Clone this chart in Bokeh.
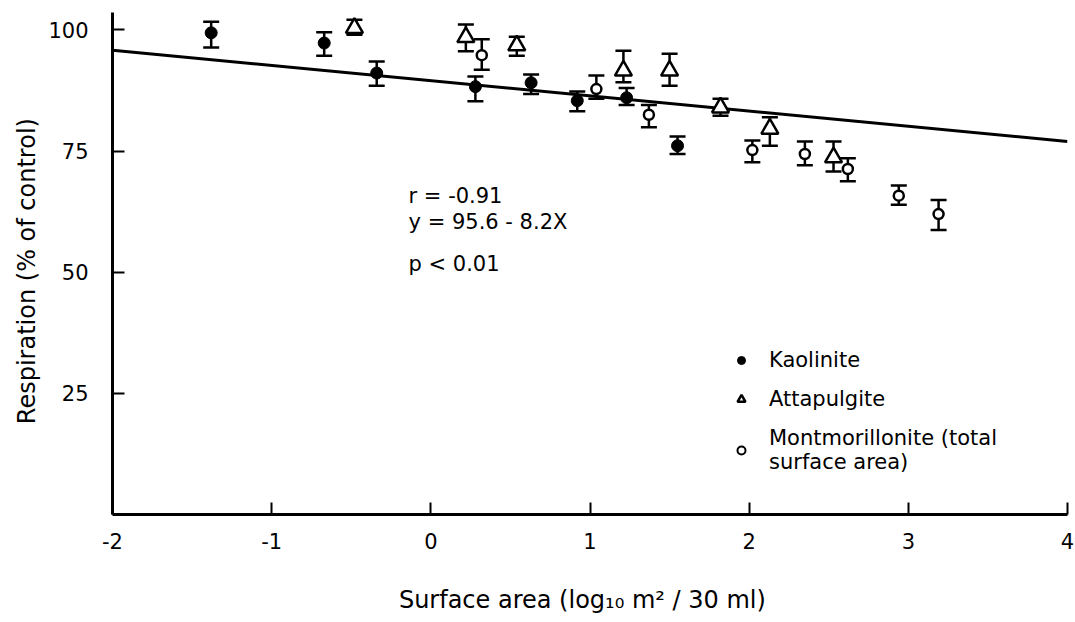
from bokeh.plotting import figure
from bokeh.models import (ColumnDataSource, Whisker, TeeHead, FixedTicker, Label,
                          Legend, LegendItem, Range1d)
from bokeh.embed import file_html
from bokeh.resources import INLINE

# ---- data ----
kao_x = [-1.38, -0.67, -0.34, 0.28, 0.63, 0.92, 1.23, 1.55]
kao_y = [99.4, 97.3, 91.1, 88.3, 89.1, 85.4, 86.0, 76.1]
kao_lo = [96.4, 94.7, 88.5, 85.3, 86.8, 83.2, 84.5, 74.4]
kao_hi = [101.7, 99.5, 93.5, 90.4, 90.8, 87.3, 88.0, 78.0]

att_x = [-0.48, 0.22, 0.54, 1.21, 1.50, 1.82, 2.13, 2.53]
att_y = [100.4, 98.5, 96.8, 91.6, 91.6, 84.0, 79.6, 73.7]
att_lo = [99.0, 95.6, 94.7, 89.2, 88.5, 82.3, 76.1, 70.8]
att_hi = [102.1, 101.1, 98.6, 95.7, 95.1, 85.8, 82.0, 77.0]

mont_x = [0.32, 1.04, 1.37, 2.02, 2.35, 2.62, 2.94, 3.19]
mont_y = [94.8, 87.8, 82.5, 75.2, 74.4, 71.3, 65.8, 62.0]
mont_lo = [91.8, 85.8, 79.9, 72.7, 72.1, 68.8, 63.9, 58.7]
mont_hi = [98.1, 90.6, 84.5, 77.2, 77.0, 73.5, 67.9, 64.9]

fit_x = [-2.0, 4.0]
fit_y = [95.8, 77.0]

x_ticks = [-2, -1, 0, 1, 2, 3, 4]
x_tick_labels = ["-2", "-1", "0", "1", "2", "3", "4"]
y_ticks = [25, 50, 75, 100]

stats_lines = ["r = -0.91", "y =  95.6 - 8.2X", "p < 0.01"]

FONT = "DejaVu Sans"
NAN = float("nan")

p = figure(width=1075, height=622, output_backend="svg", toolbar_location=None,
           x_range=Range1d(-2, 4), y_range=Range1d(0, 103.6),
           min_border_left=112, min_border_right=8, min_border_top=12,
           min_border_bottom=108)
p.outline_line_color = None
p.xgrid.visible = False
p.ygrid.visible = False

# axes styling
for ax in (p.xaxis[0], p.yaxis[0]):
    ax.axis_line_width = 3
    ax.axis_line_color = "black"
    ax.major_tick_line_width = 2
    ax.major_tick_line_color = "black"
    ax.major_tick_in = 12
    ax.major_tick_out = 0
    ax.minor_tick_line_color = None
    ax.major_label_text_font = FONT
    ax.major_label_text_font_size = "21px"
    ax.major_label_text_color = "black"
    ax.axis_label_text_font = FONT
    ax.axis_label_text_font_size = "24px"
    ax.axis_label_text_font_style = "normal"
    ax.axis_label_text_color = "black"

p.xaxis.ticker = FixedTicker(ticks=x_ticks)
p.xaxis.major_label_overrides = {t: s for t, s in zip(x_ticks, x_tick_labels)}
p.yaxis.ticker = FixedTicker(ticks=y_ticks)
p.xaxis.major_label_standoff = 18
p.yaxis.major_label_standoff = 24
p.xaxis.axis_label = "Surface  area  (log\u2081\u2080 m\u00b2 / 30 ml)"
p.yaxis.axis_label = "Respiration  (% of  control)"
p.xaxis.axis_label_standoff = 34
p.yaxis.axis_label_standoff = 4

# regression line
p.line(fit_x, fit_y, line_color="black", line_width=3)

def add_errors(xs, lo, hi):
    src = ColumnDataSource(dict(x=xs, lo=lo, hi=hi))
    w = Whisker(source=src, base="x", lower="lo", upper="hi", dimension="height",
                line_color="black", line_width=2.5,
                upper_head=TeeHead(size=16, line_width=2.5, line_color="black"),
                lower_head=TeeHead(size=16, line_width=2.5, line_color="black"))
    p.add_layout(w)

add_errors(kao_x, kao_lo, kao_hi)
add_errors(att_x, att_lo, att_hi)
add_errors(mont_x, mont_lo, mont_hi)

p.scatter(kao_x, kao_y, marker="circle", size=12, fill_color="black",
          line_color="black")
p.scatter(att_x, att_y, marker="triangle", size=17, fill_color="white",
          line_color="black", line_width=2.5)
p.scatter(mont_x, mont_y, marker="circle", size=10, fill_color="white",
          line_color="black", line_width=2.5)

# legend-only glyphs (smaller symbols, as in the key); NaN points are not drawn
lg_kao = p.scatter([NAN], [NAN], marker="circle", size=9, fill_color="black",
                   line_color="black")
lg_att = p.scatter([NAN], [NAN], marker="triangle", size=12, fill_color="white",
                   line_color="black", line_width=2.5)
lg_mont = p.scatter([NAN], [NAN], marker="circle", size=8, fill_color="white",
                    line_color="black", line_width=2)

# statistics text
stat_y = [65.8, 60.4, 51.6]
for txt, yy in zip(stats_lines, stat_y):
    p.add_layout(Label(x=-0.14, y=yy, text=txt, text_font=FONT,
                       text_font_size="21px", text_color="black",
                       text_baseline="middle", text_align="left"))

legend = Legend(items=[
    LegendItem(label="Kaolinite", renderers=[lg_kao]),
    LegendItem(label="Attapulgite", renderers=[lg_att]),
    LegendItem(label="Montmorillonite (total\nsurface area)", renderers=[lg_mont]),
], location=(619, 40), orientation="vertical")
legend.border_line_color = None
legend.background_fill_alpha = 0
legend.label_text_font = FONT
legend.label_text_font_size = "21px"
legend.label_text_color = "black"
legend.glyph_width = 20
legend.glyph_height = 20
legend.label_standoff = 18
legend.spacing = 15
legend.padding = 8
p.add_layout(legend)

open("out.html", "w").write(file_html(p, INLINE))
